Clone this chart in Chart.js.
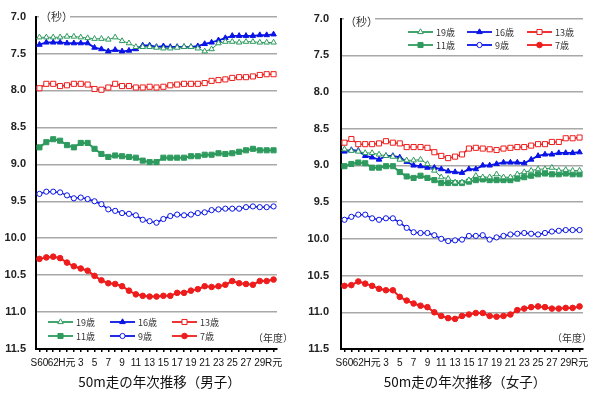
<!DOCTYPE html>
<html>
<head>
<meta charset="utf-8">
<script src="https://cdn.jsdelivr.net/npm/chart.js@4.4.0/dist/chart.umd.min.js"></script>
<style>
  body { margin: 0; background: #fff; width: 600px; height: 398px; overflow: hidden; }
  canvas { position: absolute; top: 0; }
</style>
</head>
<body>
<canvas id="boys" width="300" height="398" style="left:0"></canvas>
<canvas id="girls" width="300" height="398" style="left:300px"></canvas>
<script>
// years S60 (1985) .. R元 (2019)
const xLabels = ['S60', '61', '62', '63', 'H元', '2', '3', '4', '5', '6', '7', '8', '9', '10',
  '11', '12', '13', '14', '15', '16', '17', '18', '19', '20', '21', '22', '23', '24', '25',
  '26', '27', '28', '29', '30', 'R元'];
const yTicks = [7.0, 7.5, 8.0, 8.5, 9.0, 9.5, 10.0, 10.5, 11.0, 11.5];
const ageLabels = ['19歳', '16歳', '13歳', '11歳', '9歳', '7歳'];

// 男子 (seconds)
const male19 = [7.28,7.28,7.28,7.28,7.27,7.27,7.28,7.29,7.30,7.30,7.31,7.28,7.33,7.36,7.41,7.41,7.41,7.42,7.43,7.43,7.42,7.41,7.41,7.43,7.47,7.44,7.36,7.34,7.34,7.35,7.34,7.34,7.35,7.35,7.35];
const male16 = [7.38,7.35,7.35,7.35,7.36,7.36,7.36,7.36,7.42,7.44,7.47,7.45,7.47,7.46,7.44,7.39,7.39,7.41,7.40,7.41,7.41,7.41,7.41,7.40,7.37,7.35,7.32,7.29,7.26,7.26,7.26,7.26,7.25,7.25,7.24];
const male13 = [7.97,7.91,7.91,7.94,7.93,7.91,7.91,7.92,7.98,7.99,7.96,7.91,7.94,7.94,7.96,7.96,7.95,7.96,7.95,7.93,7.92,7.91,7.91,7.91,7.90,7.87,7.86,7.85,7.83,7.82,7.82,7.81,7.79,7.78,7.78];
const male11 = [8.77,8.70,8.66,8.68,8.74,8.77,8.71,8.71,8.79,8.86,8.90,8.88,8.89,8.90,8.91,8.95,8.97,8.97,8.91,8.91,8.91,8.91,8.89,8.89,8.87,8.87,8.85,8.86,8.85,8.83,8.81,8.79,8.81,8.81,8.81];
const male9 = [9.40,9.37,9.37,9.38,9.42,9.46,9.45,9.47,9.50,9.54,9.61,9.63,9.66,9.67,9.69,9.75,9.77,9.79,9.74,9.70,9.68,9.69,9.68,9.66,9.65,9.62,9.61,9.60,9.60,9.60,9.58,9.57,9.58,9.58,9.57];
const male7 = [10.28,10.26,10.25,10.27,10.33,10.38,10.41,10.44,10.51,10.57,10.61,10.62,10.65,10.71,10.76,10.78,10.79,10.79,10.78,10.78,10.74,10.74,10.71,10.69,10.65,10.66,10.65,10.63,10.58,10.61,10.62,10.63,10.58,10.58,10.56];

// 女子 (seconds)
const female19 = [8.78,8.80,8.81,8.83,8.83,8.85,8.87,8.88,8.92,8.93,8.93,8.92,8.98,9.07,9.16,9.18,9.23,9.23,9.20,9.14,9.16,9.16,9.12,9.16,9.16,9.12,9.09,9.07,9.05,9.05,9.03,9.07,9.06,9.07,9.07];
const female16 = [8.81,8.79,8.80,8.87,8.89,8.92,8.87,8.87,8.89,8.95,9.00,9.01,9.03,9.03,9.05,9.08,9.09,9.10,9.05,9.05,9.00,9.00,8.98,8.96,8.96,8.96,8.97,8.92,8.87,8.85,8.85,8.83,8.83,8.83,8.82];
const female13 = [8.69,8.64,8.71,8.71,8.71,8.70,8.67,8.69,8.70,8.75,8.75,8.75,8.76,8.82,8.87,8.90,8.88,8.85,8.77,8.76,8.77,8.78,8.79,8.77,8.76,8.75,8.75,8.73,8.71,8.71,8.68,8.68,8.63,8.63,8.62];
const female11 = [9.01,8.98,8.96,8.97,9.03,9.03,9.01,9.01,9.09,9.15,9.17,9.14,9.17,9.20,9.24,9.24,9.24,9.24,9.22,9.20,9.19,9.20,9.20,9.20,9.20,9.18,9.16,9.14,9.12,9.11,9.12,9.12,9.11,9.12,9.12];
const female9 = [9.74,9.70,9.67,9.67,9.72,9.74,9.72,9.72,9.78,9.85,9.91,9.92,9.92,9.95,10.00,10.03,10.02,10.01,9.96,9.96,9.95,10.01,9.98,9.96,9.94,9.93,9.92,9.93,9.94,9.92,9.90,9.89,9.88,9.88,9.88];
const female7 = [10.64,10.63,10.58,10.61,10.64,10.68,10.70,10.70,10.79,10.84,10.88,10.91,10.93,11.00,11.05,11.08,11.09,11.05,11.03,11.01,11.01,11.05,11.06,11.05,11.03,10.97,10.95,10.93,10.92,10.93,10.95,10.95,10.94,10.94,10.92];

const GREEN = '#2e9a5e', BLUE = '#0a14e6', RED = '#ee1c1c';
const FONT = '"Liberation Sans", "Noto Sans CJK JP", sans-serif';
const JFONT = '"Noto Sans CJK JP", sans-serif';

// look of each age series, same order as ageLabels
const styles = [
  { color: GREEN, shape: 'triangle', filled: false, r: 3.2, lw: 1 },
  { color: BLUE, shape: 'triangle', filled: true, r: 3.2, lw: 1.8 },
  { color: RED, shape: 'rect', filled: false, r: 3.6, lw: 1.5 },
  { color: GREEN, shape: 'rect', filled: true, r: 3.6, lw: 2 },
  { color: BLUE, shape: 'circle', filled: false, r: 2.6, lw: 1.5 },
  { color: RED, shape: 'circle', filled: true, r: 2.8, lw: 2 }
];

function drawMark(ctx, s, x, y) {
  const r = s.r;
  ctx.beginPath();
  if (s.shape === 'circle') ctx.arc(x, y, r, 0, Math.PI * 2);
  else if (s.shape === 'rect') { const h = r * Math.SQRT1_2; ctx.rect(x - h, y - h, 2 * h, 2 * h); }
  else { ctx.moveTo(x, y - r); ctx.lineTo(x + r * 0.87, y + r * 0.5); ctx.lineTo(x - r * 0.87, y + r * 0.5); ctx.closePath(); }
  ctx.fillStyle = s.filled ? s.color : '#fff';
  ctx.fill();
  ctx.lineWidth = 1;
  ctx.strokeStyle = s.color;
  ctx.stroke();
}

// title, unit labels and the hand placed legend
const extras = {
  id: 'extras',
  afterDraw(chart, args, o) {
    const ctx = chart.ctx, a = chart.chartArea;
    ctx.save();
    ctx.textBaseline = 'middle';
    // (秒)
    ctx.font = '11px ' + JFONT;
    ctx.fillStyle = '#fff';
    ctx.fillRect(a.left + 3, a.top - 7, 31, 14);
    ctx.fillStyle = '#333';
    ctx.textAlign = 'left';
    ctx.fillText('（秒）', a.left + 4, a.top + o.unitDy);
    // (年度)
    ctx.font = '10px ' + JFONT;
    ctx.textAlign = 'right';
    ctx.fillText('（年度）', o.yearX, 338);
    // title
    ctx.font = '13.5px ' + JFONT;
    ctx.fillStyle = '#111';
    ctx.textAlign = 'center';
    ctx.fillText(o.title, (a.left + a.right) / 2 + 3, 382);
    // legend
    ctx.font = '9px ' + JFONT;
    ctx.textAlign = 'left';
    styles.forEach((s, i) => {
      const x = o.legX[i % 3], y = o.legY[Math.floor(i / 3)];
      ctx.beginPath();
      ctx.moveTo(x, y);
      ctx.lineTo(x + 25, y);
      ctx.strokeStyle = s.color;
      ctx.lineWidth = 1.8;
      ctx.stroke();
      drawMark(ctx, s, x + 12.5, y);
      ctx.fillStyle = '#333';
      ctx.fillText(ageLabels[i], x + 28, y + 0.5);
    });
    ctx.restore();
  }
};

function makeChart(id, series, opts) {
  const datasets = series.map((data, i) => {
    const s = styles[i];
    return {
      label: ageLabels[i],
      data: data,
      borderColor: s.color,
      backgroundColor: s.color,
      borderWidth: s.lw,
      pointStyle: s.shape,
      pointRadius: s.r,
      pointBorderWidth: 1,
      pointBorderColor: s.color,
      pointBackgroundColor: s.filled ? s.color : '#fff',
      tension: 0
    };
  });
  return new Chart(document.getElementById(id), {
    type: 'line',
    data: { labels: xLabels, datasets: datasets },
    plugins: [extras],
    options: {
      responsive: false,
      animation: false,
      devicePixelRatio: 1,
      layout: { padding: { top: 15, right: opts.padRight, left: 0, bottom: 0 } },
      plugins: { legend: { display: false }, tooltip: { enabled: false }, extras: opts },
      scales: {
        x: {
          offset: true,
          afterFit(scale) { scale.height = 49; },
          grid: { drawOnChartArea: false, offset: false, tickLength: 3, color: '#000', lineWidth: 1.5 },
          border: { color: '#000', width: 2 },
          ticks: {
            autoSkip: false, maxRotation: 0, padding: 5, color: '#111',
            font: { family: FONT, size: 10 },
            callback: (v, i) => (i % 2 === 0 ? xLabels[i] : '')
          }
        },
        y: {
          reverse: true,
          min: 7, max: 11.5,
          afterFit(scale) { scale.width = opts.axisW; },
          afterBuildTicks(scale) { scale.ticks = yTicks.map(v => ({ value: v })); },
          grid: { color: '#a8a8a8', lineWidth: 1.5, tickLength: 0 },
          border: { color: '#000', width: 2 },
          ticks: {
            padding: opts.yPad, color: '#222',
            font: { family: FONT, size: 11, weight: 'bold' },
            callback: v => v.toFixed(1)
          }
        }
      }
    }
  });
}

makeChart('boys', [male19, male16, male13, male11, male9, male7], {
  title: '50m走の年次推移（男子）', axisW: 36, padRight: 23, yPad: 10, unitDy: 0,
  yearX: 293, legX: [48, 110, 172], legY: [322, 336]
});
makeChart('girls', [female19, female16, female13, female11, female9, female7], {
  title: '50m走の年次推移（女子）', axisW: 41, padRight: 17, yPad: 12, unitDy: 3,
  yearX: 292, legX: [108, 167, 227], legY: [32, 45]
});
</script>
</body>
</html>
